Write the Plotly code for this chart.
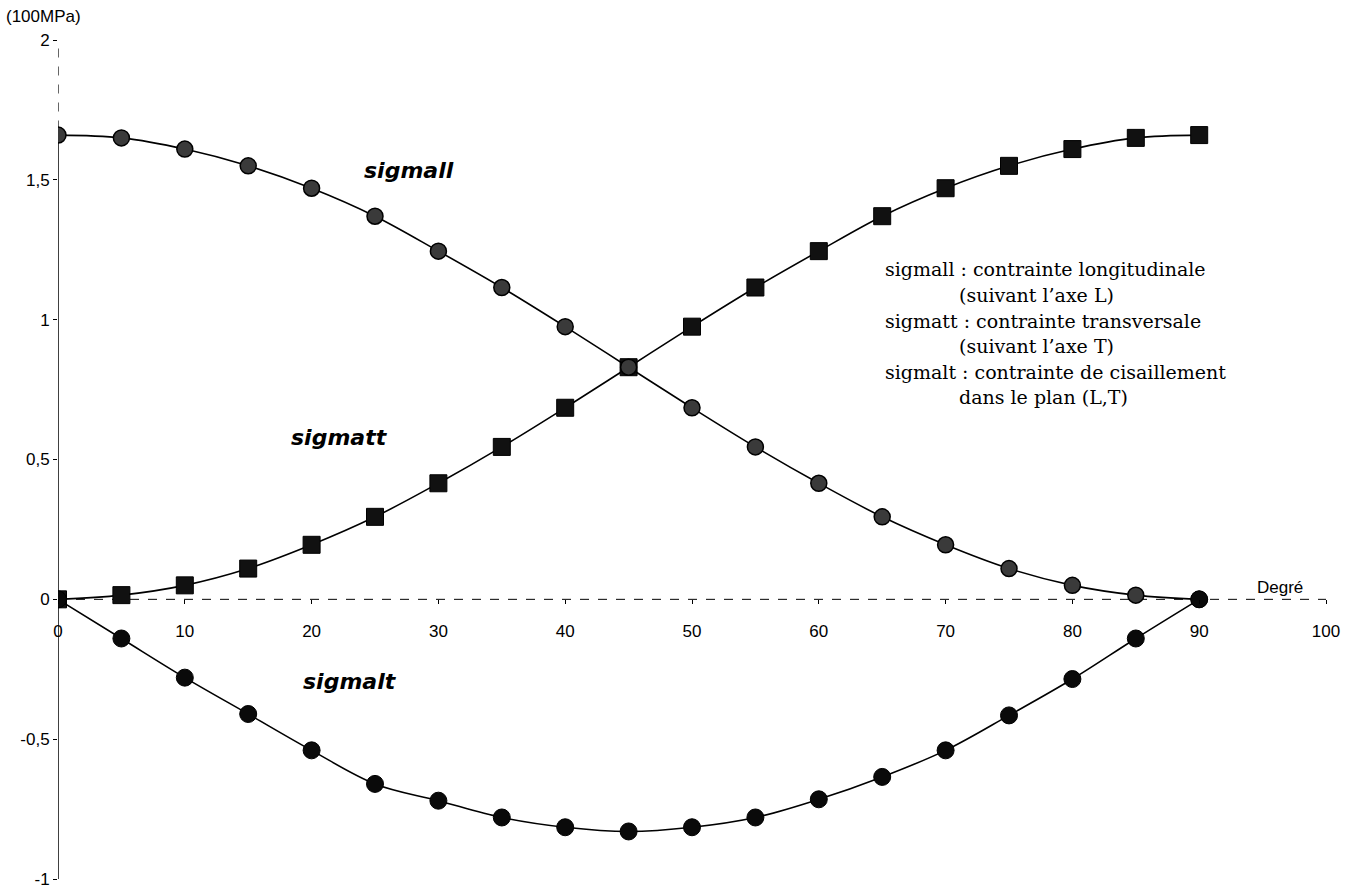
import plotly.graph_objects as go

degres = [0, 5, 10, 15, 20, 25, 30, 35, 40, 45, 50, 55, 60, 65, 70, 75, 80, 85, 90]
sigmall = [1.66, 1.65, 1.61, 1.55, 1.47, 1.37, 1.245, 1.115, 0.975, 0.83,
           0.685, 0.545, 0.415, 0.295, 0.195, 0.11, 0.05, 0.015, 0.0]
sigmatt = [0.0, 0.015, 0.05, 0.11, 0.195, 0.295, 0.415, 0.545, 0.685, 0.83,
           0.975, 1.115, 1.245, 1.37, 1.47, 1.55, 1.61, 1.65, 1.66]
sigmalt = [0.0, -0.14, -0.28, -0.41, -0.54, -0.66, -0.72, -0.78, -0.815, -0.83,
           -0.815, -0.78, -0.715, -0.635, -0.54, -0.415, -0.285, -0.14, 0.0]

ytick_vals = [-1, -0.5, 0, 0.5, 1, 1.5, 2]
ytick_text = ["-1", "-0,5", "0", "0,5", "1", "1,5", "2"]
xtick_vals = [0, 10, 20, 30, 40, 50, 60, 70, 80, 90, 100]
xtick_text = ["0", "10", "20", "30", "40", "50", "60", "70", "80", "90", "100"]

legend_lines = [
    ("sigmall : contrainte longitudinale", 0),
    ("(suivant l\u2019axe L)", 1),
    ("sigmatt : contrainte transversale", 0),
    ("(suivant l\u2019axe T)", 1),
    ("sigmalt : contrainte de cisaillement", 0),
    ("dans le plan (L,T)", 1),
]

fig = go.Figure()

fig.add_trace(go.Scatter(
    x=degres, y=sigmatt, mode="lines+markers", name="sigmatt",
    line=dict(color="black", width=1.6, shape="spline"),
    marker=dict(symbol="square", size=17, color="#111111",
                line=dict(color="black", width=1)),
))
fig.add_trace(go.Scatter(
    x=degres, y=sigmall, mode="lines+markers", name="sigmall",
    line=dict(color="black", width=1.6, shape="spline"),
    marker=dict(symbol="circle", size=16, color="#3a3a3a",
                line=dict(color="black", width=1.5)),
))
fig.add_trace(go.Scatter(
    x=degres, y=sigmalt, mode="lines+markers", name="sigmalt",
    line=dict(color="black", width=1.6, shape="spline"),
    marker=dict(symbol="circle", size=17, color="#0a0a0a",
                line=dict(color="black", width=1)),
))

# dashed x axis line at y = 0
fig.add_shape(type="line", xref="x", yref="y", x0=0, x1=100, y0=0, y1=0,
              line=dict(color="black", width=1, dash="dash"), layer="below")
# y axis: solid lower part, dashed upper part
fig.add_shape(type="line", xref="x", yref="y", x0=0, x1=0, y0=-1, y1=1.68,
              line=dict(color="black", width=1.5), layer="below")
fig.add_shape(type="line", xref="x", yref="y", x0=0, x1=0, y0=1.68, y1=2,
              line=dict(color="black", width=1.2, dash="dash"), layer="below")

sans = "Liberation Sans, Arial, sans-serif"
serif = "DejaVu Serif, serif"
label_font = "DejaVu Sans, sans-serif"

annotations = [
    dict(x=0, y=1.0, xref="paper", yref="paper", text="(100MPa)", showarrow=False,
         xanchor="center", yanchor="middle", xshift=-15, yshift=24,
         font=dict(family=sans, size=17, color="black")),
    dict(x=96.4, y=0, xref="x", yref="y", text="Degré", showarrow=False,
         xanchor="center", yanchor="bottom", yshift=0,
         font=dict(family=sans, size=17, color="black")),
    dict(x=27.7, y=1.535, xref="x", yref="y", text="<b><i>sigmall</i></b>", showarrow=False,
         font=dict(family=label_font, size=22, color="black")),
    dict(x=22.2, y=0.58, xref="x", yref="y", text="<b><i>sigmatt</i></b>", showarrow=False,
         font=dict(family=label_font, size=22, color="black")),
    dict(x=23.0, y=-0.295, xref="x", yref="y", text="<b><i>sigmalt</i></b>", showarrow=False,
         font=dict(family=label_font, size=22, color="black")),
]

base_x = 65.1
indent_x = 70.9
y0 = 1.18
dy = 0.0915
for i, (txt, ind) in enumerate(legend_lines):
    annotations.append(dict(
        x=indent_x if ind else base_x, y=y0 - i * dy, xref="x", yref="y",
        text=txt, showarrow=False, xanchor="left", yanchor="middle",
        font=dict(family=serif, size=19, color="black")))

fig.update_layout(
    width=1359, height=891,
    margin=dict(l=58, r=33, t=40, b=12, pad=0, autoexpand=False),
    paper_bgcolor="white", plot_bgcolor="white",
    showlegend=False,
    annotations=annotations,
    xaxis=dict(range=[0, 100], anchor="free", position=1/3,
               tickvals=xtick_vals, ticktext=xtick_text,
               ticks="outside", ticklen=4, tickcolor="black",
               showline=False, showgrid=False, zeroline=False,
               automargin=False,
               ticklabelstandoff=12,
               tickfont=dict(family=sans, size=17, color="black")),
    yaxis=dict(range=[-1, 2], domain=[0, 1],
               tickvals=ytick_vals, ticktext=ytick_text,
               ticks="outside", ticklen=4, tickcolor="black",
               showline=False, showgrid=False, zeroline=False,
               automargin=False,
               tickfont=dict(family=sans, size=17, color="black")),
)

fig.write_html("out.html",
               config={"displayModeBar": False},
               post_script="document.body.style.margin='0px';document.body.style.overflow='hidden';")
